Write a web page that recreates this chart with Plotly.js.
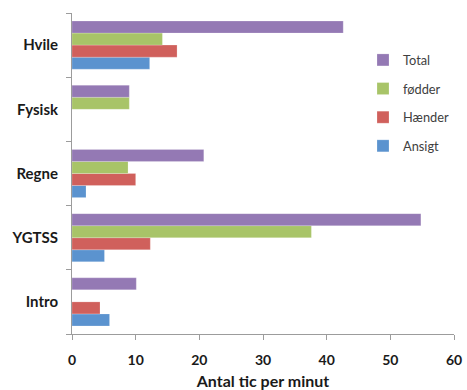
<!DOCTYPE html>
<html>
<head>
<meta charset="utf-8">
<script src="https://cdn.plot.ly/plotly-3.0.1.min.js"></script>
<style>
  html, body { margin: 0; padding: 0; background: #fff; }
  #chart { width: 467px; height: 390px; }
</style>
</head>
<body>
<div id="chart"></div>
<script>
// Categories listed bottom to top
const categories = ['Intro', 'YGTSS', 'Regne', 'Fysisk', 'Hvile'];

// Tics per minute for each body region
const ansigt = [5.9, 5.1, 2.2, 0, 12.2];
const haender = [4.4, 12.3, 10.0, 0, 16.5];
const foedder = [0, 37.6, 8.8, 9.0, 14.2];
const total = [10.1, 54.8, 20.7, 9.0, 42.6];

const seriesNames = ['Ansigt', 'Hænder', 'fødder', 'Total'];
const seriesValues = [ansigt, haender, foedder, total];
const seriesColors = ['#5b93cf', '#d0605c', '#a8c468', '#9479b4'];

const xTicks = [0, 10, 20, 30, 40, 50, 60];

// Legend lists the last series first
const traces = seriesValues.map((vals, i) => ({
  type: 'bar',
  orientation: 'h',
  name: seriesNames[i],
  y: categories,
  x: vals,
  legendgroup: 'g' + i,
  legendrank: 1000 - i,
  marker: {
    color: seriesColors[i],
    line: { color: 'rgba(255,255,255,0.35)', width: 0.6 }
  },
  hoverinfo: 'x+name'
}));

const layout = {
  width: 467,
  height: 390,
  margin: { l: 72, r: 13, t: 13, b: 56 },
  paper_bgcolor: '#ffffff',
  plot_bgcolor: '#ffffff',
  barmode: 'group',
  bargap: 0.25,
  bargroupgap: 0,
  showlegend: true,
  legend: {
    x: 1, xanchor: 'right',
    y: 0.9, yanchor: 'top',
    traceorder: 'grouped',
    tracegroupgap: 9,
    itemwidth: 30,
    font: { family: 'Lato, sans-serif', size: 12.8, color: '#404040' },
    bgcolor: 'rgba(0,0,0,0)'
  },
  xaxis: {
    range: [0, 60],
    tickvals: xTicks,
    ticktext: xTicks.map(String),
    showgrid: false,
    zeroline: false,
    showline: true,
    linecolor: '#9c9c9c',
    linewidth: 1,
    ticks: 'outside',
    ticklen: 5,
    tickcolor: '#9c9c9c',
    ticklabelstandoff: 8,
    tickfont: { family: 'Lato, sans-serif', size: 14, color: '#1a1a1a', weight: 'bold' },
    title: {
      text: 'Antal tic per minut',
      font: { family: 'Lato, sans-serif', size: 16, color: '#1a1a1a', weight: 'bold' },
      standoff: 9
    },
    fixedrange: true
  },
  yaxis: {
    type: 'category',
    categoryorder: 'array',
    categoryarray: categories,
    range: [-0.5, 4.5],
    showgrid: false,
    zeroline: false,
    showline: true,
    linecolor: '#9c9c9c',
    linewidth: 1,
    ticks: 'outside',
    tickson: 'boundaries',
    ticklen: 5,
    tickcolor: '#9c9c9c',
    ticklabelstandoff: 10,
    tickfont: { family: 'Lato, sans-serif', size: 15, color: '#1a1a1a', weight: 'bold' },
    fixedrange: true
  }
};

Plotly.newPlot('chart', traces, layout, { displayModeBar: false, staticPlot: true });
</script>
</body>
</html>
